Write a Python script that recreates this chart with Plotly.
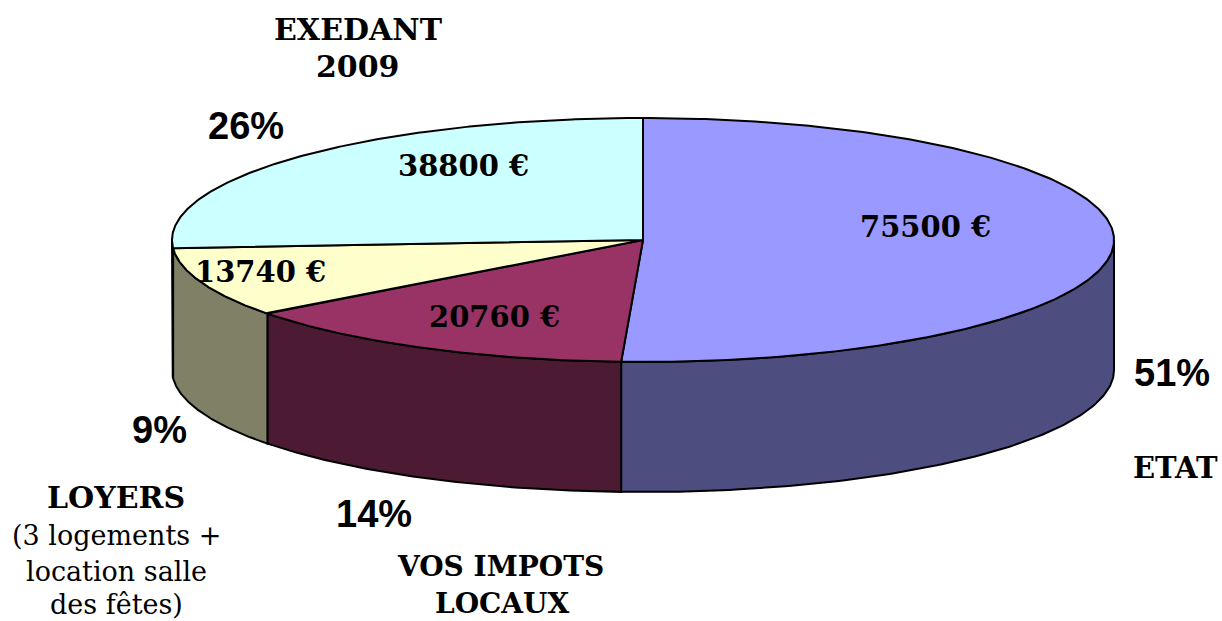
import numpy as np
import plotly.graph_objects as go

names = ["ETAT", "VOS IMPOTS LOCAUX", "LOYERS", "EXEDANT 2009"]
values = [75500, 20760, 13740, 38800]
value_labels = ["75500 €", "20760 €", "13740 €", "38800 €"]
percent_labels = ["51%", "14%", "9%", "26%"]
top_colors = ["#9999FF", "#993366", "#FFFFCC", "#CCFFFF"]
side_colors = ["#4D4D80", "#4D1A33", "#808066", "#668080"]

CX, CY, RX, RY, DEPTH = 643, 240, 471, 122, 130


def ell(a):
    return CX + RX * np.sin(a), CY - RY * np.cos(a)


fractions = np.array(values) / sum(values)
edges = np.concatenate([[0], np.cumsum(fractions)]) * 2 * np.pi

fig = go.Figure()
LINE = dict(color="black", width=2)

# side walls (front half only)
for i in range(len(values)):
    a0, a1 = max(edges[i], np.pi / 2), min(edges[i + 1], 3 * np.pi / 2)
    if a1 <= a0:
        continue
    t = np.linspace(a0, a1, 120)
    x, y = ell(t)
    fig.add_trace(go.Scatter(
        x=np.concatenate([x, x[::-1], x[:1]]),
        y=np.concatenate([y, y[::-1] + DEPTH, y[:1]]),
        mode="lines", fill="toself", fillcolor=side_colors[i], line=LINE,
        hoverinfo="skip", showlegend=False))

# top faces
for i in range(len(values)):
    t = np.linspace(edges[i], edges[i + 1], 240)
    x, y = ell(t)
    fig.add_trace(go.Scatter(
        x=np.concatenate([[CX], x, [CX]]),
        y=np.concatenate([[CY], y, [CY]]),
        mode="lines", fill="toself", fillcolor=top_colors[i], line=LINE,
        name=names[i], hoverinfo="skip", showlegend=False))

SERIF = "DejaVu Serif"
SANS = "Liberation Sans"


def label(x, y, text, family, size, bold=True):
    fig.add_annotation(x=x, y=y, text=f"<b>{text}</b>" if bold else text, showarrow=False,
                       xanchor="center", yanchor="middle", align="center",
                       font=dict(family=family, size=size, color="black"))


for (x, y), t in zip([(925, 227), (494, 317), (260, 272), (463, 166)], value_labels):
    label(x, y, t, SERIF, 29)
for (x, y), t in zip([(1172, 373), (374, 514), (159, 430), (246, 126)], percent_labels):
    label(x, y, t, SANS, 38)

label(358, 29, "EXEDANT", SERIF, 30)
label(358, 66, "2009", SERIF, 30)
label(1175, 468, "ETAT", SERIF, 29)
label(116, 497, "LOYERS", SERIF, 30)
label(116, 535, "(3 logements +", SERIF, 27, bold=False)
label(116, 571, "location salle", SERIF, 27, bold=False)
label(116, 604, "des fêtes)", SERIF, 27, bold=False)
label(500, 566, "VOS IMPOTS", SERIF, 28)
label(502, 603, "LOCAUX", SERIF, 28)

fig.update_layout(
    width=1222, height=621, margin=dict(l=0, r=0, t=0, b=0),
    paper_bgcolor="white", plot_bgcolor="white",
    xaxis=dict(range=[0, 1222], visible=False, fixedrange=True),
    yaxis=dict(range=[621, 0], visible=False, fixedrange=True),
)
fig.write_html("out.html", config={"displayModeBar": False},
               post_script="document.body.style.margin='0';document.body.style.overflow='hidden';")
